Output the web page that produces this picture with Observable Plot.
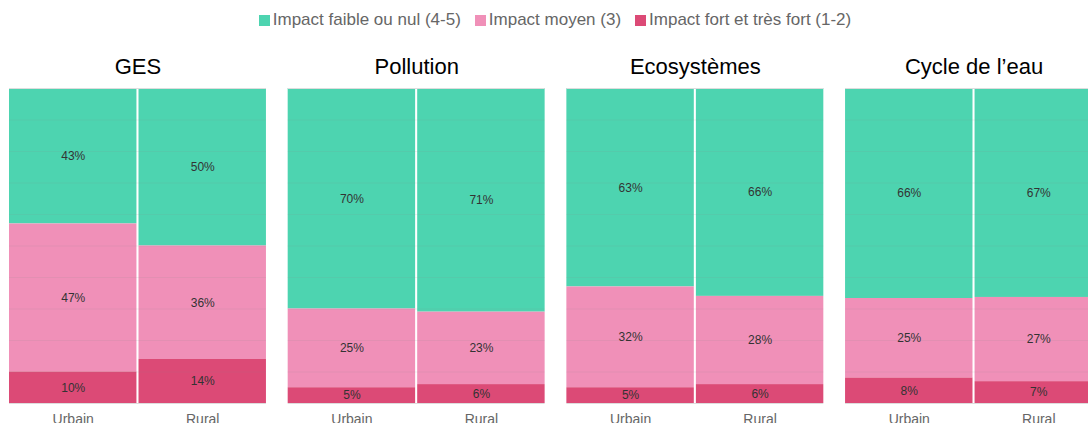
<!DOCTYPE html>
<html><head><meta charset="utf-8">
<script src="https://cdn.jsdelivr.net/npm/d3@7"></script>
<script src="https://cdn.jsdelivr.net/npm/@observablehq/plot@0.6"></script>
<style>
body{margin:0;background:#fff;overflow:hidden;font-family:"Liberation Sans",Arial,sans-serif;}
#legend{height:40px;display:flex;justify-content:center;align-items:center;font-size:17px;color:#666;padding-left:22px;box-sizing:border-box;width:1088px;}
.item{display:flex;align-items:center;margin:0 7px;white-space:nowrap;}
.sw{width:11px;height:11px;margin-right:3px;display:inline-block;}
svg{max-width:none !important;}
</style></head><body>
<div id="legend"></div><div id="chart"></div>
<script>
const themes = ["GES", "Pollution", "Ecosystèmes", "Cycle de l’eau"];
const zones = ["Urbain", "Rural"];
const levels = ["Impact faible ou nul (4-5)", "Impact moyen (3)", "Impact fort et très fort (1-2)"];
// order: GES U, GES R, Pollution U, Pollution R, Eco U, Eco R, Cycle U, Cycle R
const faible = [43, 50, 70, 71, 63, 66, 66, 67];
const moyen  = [47, 36, 25, 23, 32, 28, 25, 27];
const fort   = [10, 14, 5, 6, 5, 6, 8, 7];
const colors = ["#4dd4b0", "#f090b8", "#dc4a76"];

const series = [faible, moyen, fort];
const data = [];
themes.forEach((t, ti) => zones.forEach((z, zi) => {
  levels.forEach((l, li) => data.push({theme: t, zone: z, level: l, value: series[li][ti * 2 + zi]}));
}));

const legend = document.getElementById("legend");
levels.forEach((l, i) => {
  const it = document.createElement("div"); it.className = "item";
  const sw = document.createElement("span"); sw.className = "sw"; sw.style.background = colors[i];
  it.appendChild(sw); it.appendChild(document.createTextNode(l));
  legend.appendChild(it);
});

const stackOpts = {fx: "theme", x: "zone", y: "value", z: "level", order: [levels[2], levels[1], levels[0]], offset: "normalize"};

const chart = Plot.plot({
  width: 1103, height: 393,
  marginLeft: 9, marginRight: 1, marginTop: 48, marginBottom: 30,
  style: {fontFamily: "'Liberation Sans', Arial, sans-serif", background: "white"},
  fx: {domain: themes, paddingInner: 0.078, paddingOuter: 0, round: false, label: null},
  x: {domain: zones, paddingInner: 0.016, paddingOuter: 0, round: false, label: null},
  y: {domain: [0, 1], axis: null},
  color: {domain: levels, range: colors},
  marks: [
    Plot.barY(data, Plot.stackY({...stackOpts, fill: "level"})),
    Plot.ruleY(d3.range(1, 10).map(d => d / 10), {stroke: "#888", strokeOpacity: 0.12}),
    Plot.ruleY([0, 1], {stroke: "#ddd"}),
    Plot.text(data, Plot.stackY({...stackOpts, text: d => d.value + "%", fill: "#333", fontSize: 12})),
    Plot.axisFx({anchor: "top", label: null, tickSize: 0, tickPadding: 15, fontSize: 22, color: "#000"}),
    Plot.axisX({anchor: "bottom", label: null, tickSize: 0, tickPadding: 11, fontSize: 14, color: "#666"})
  ]
});
document.getElementById("chart").appendChild(chart);
</script>
</body></html>
